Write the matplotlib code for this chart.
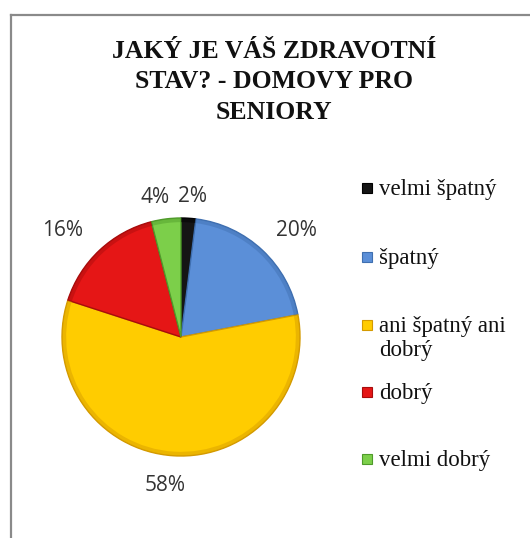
import matplotlib
matplotlib.use("Agg")
import matplotlib.pyplot as plt
import numpy as np
from matplotlib.patches import Rectangle
from matplotlib.lines import Line2D

# odpovědi respondentů (domovy pro seniory)
categories = ["velmi špatný", "špatný", "ani špatný ani\ndobrý", "dobrý", "velmi dobrý"]
shares = [2, 20, 58, 16, 4]
colors = ["#151515", "#5b8fd8", "#ffcc00", "#e51616", "#7ccf4a"]
edges = ["#000000", "#3f6fb0", "#d49a00", "#a80c0c", "#4f9a2a"]
title = "JAKÝ JE VÁŠ ZDRAVOTNÍ\nSTAV? - DOMOVY PRO\nSENIORY"

W, H = 530, 538
fig = plt.figure(figsize=(W / 100, H / 100), dpi=100)

# rámeček grafu
fig.add_artist(Line2D([10.5 / W, 10.5 / W], [0, 1 - 14.5 / H], transform=fig.transFigure,
                      color="#8a8a8a", lw=1.6))
fig.add_artist(Line2D([10.5 / W, 1], [1 - 14.5 / H, 1 - 14.5 / H], transform=fig.transFigure,
                      color="#8a8a8a", lw=1.6))

fig.text(274 / W, 1 - 82 / H, title, ha="center", va="center", family="Liberation Serif",
         fontweight="bold", fontsize=18.5, linespacing=1.42, color="#111111")

# koláč
cx, cy, R = 181, 337, 119
lim = 1.55
side = 2 * lim * R
ax = fig.add_axes([(cx - side / 2) / W, (H - cy - side / 2) / H, side / W, side / H])
wedges, _ = ax.pie(shares, colors=colors, startangle=90, counterclock=False,
                   wedgeprops=dict(linewidth=1.0))
for w, ec in zip(wedges, edges):
    w.set_edgecolor(ec)
# tmavší okraj výsečí (efekt zkosení)
rim, _ = ax.pie(shares, colors=edges, startangle=90, counterclock=False,
                wedgeprops=dict(width=0.035, linewidth=0, alpha=0.45))
ax.set_xlim(-lim, lim)
ax.set_ylim(-lim, lim)
ax.set_aspect("equal")
ax.axis("off")

# popisky procent
label_d = [1.18, 1.23, 1.25, 1.23, 1.18]
label_ha = ["center", "left", "center", "right", "center"]
label_dx = [3, -5, -7, 2, -8]
for w, v, d, ha, dx in zip(wedges, shares, label_d, label_ha, label_dx):
    ang = np.deg2rad((w.theta1 + w.theta2) / 2)
    ax.annotate(f"{v}%", (d * np.cos(ang), d * np.sin(ang)), xytext=(dx * 0.72, 0),
                textcoords="offset points", ha=ha, va="center", family="Open Sans",
                fontsize=15, color="#333333", annotation_clip=False)

# legenda
leg_y = [188, 257, 325, 392, 459]
for lab, col, ec, y in zip(categories, colors, edges, leg_y):
    fig.add_artist(Rectangle((362 / W, 1 - (y + 5) / H), 10 / W, 10 / H, transform=fig.transFigure,
                             facecolor=col, edgecolor=ec, lw=0.8))
    fig.text(379 / W, 1 - (y - 9) / H, lab, ha="left", va="top",
             family="Liberation Serif", fontsize=16.5, color="#111111", linespacing=1.2)

fig.savefig("out.png", dpi=100, facecolor="white")
